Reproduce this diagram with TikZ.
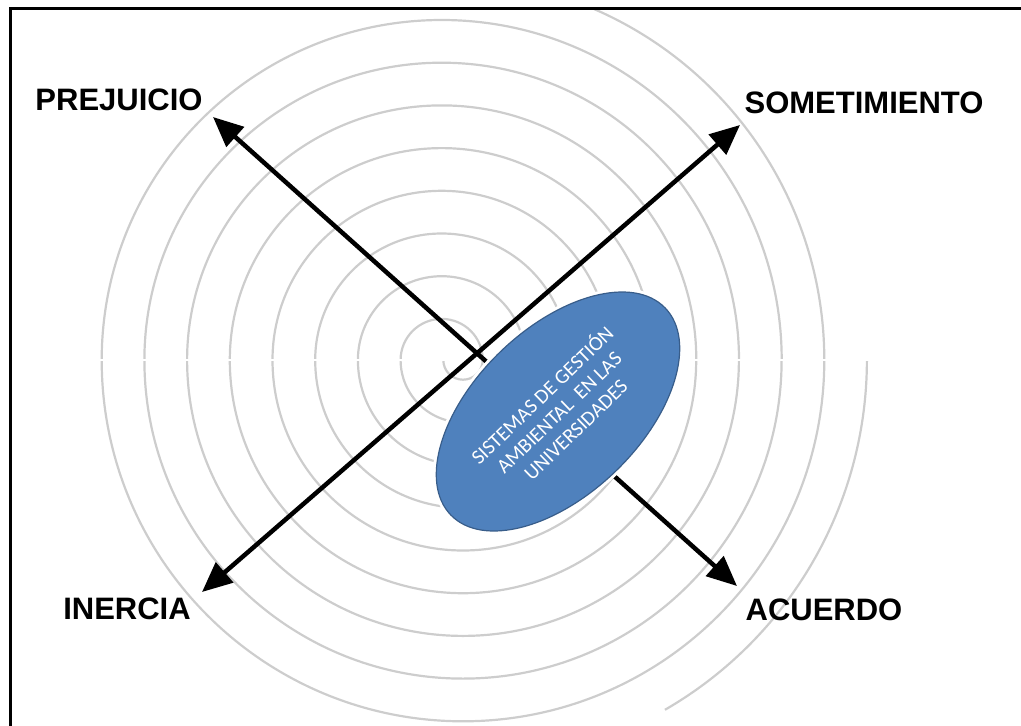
\documentclass[tikz,border=0pt]{standalone}
\usepackage{fontspec}
\newfontfamily\labelfont{Liberation Sans}
\newfontfamily\ovalfont{Carlito}
\usetikzlibrary{arrows.meta,shapes.geometric}

\definecolor{spiralgray}{RGB}{205,205,205}
\definecolor{ovalblue}{RGB}{79,129,189}
\definecolor{ovalline}{RGB}{56,93,138}

\tikzset{
  frameline/.style={line width=3pt, black},
  spiral/.style={line width=2.2pt, spiralgray},
  axisarrow/.style={line width=4.5pt, black, {Triangle[length=30pt,width=26pt]}-{Triangle[length=30pt,width=26pt]}},
  corner/.style={font=\labelfont\bfseries\fontsize{31}{31}\selectfont, inner sep=0pt},
  oval/.style={ellipse, fill=ovalblue, draw=ovalline, line width=1.2pt,
    preaction={draw=white, line width=7pt},
    minimum width=298pt, minimum height=166pt, inner sep=0pt,
    text=white, align=center,
    font=\ovalfont\fontsize{20.5}{24}\selectfont}
}

\begin{document}
\begin{tikzpicture}[x=1pt,y=-1pt]
\useasboundingbox (0,0) rectangle (1021,726);

% spiral of half circles: upper halves around one centre, lower halves around a second one
\begin{scope}
  \clip (10,8) rectangle (1021,726);
  \foreach \i in {0,...,7}{
    \draw[spiral] ({101.7+42.7*\i},360) arc[start angle=180, end angle=360, radius={340-42.7*\i}];
  }
  \foreach \i in {0,...,8}{
    \draw[spiral] ({101.7+42.7*\i},360) arc[start angle=180, end angle=0, radius={361.3-42.7*\i}];
  }
  \draw[spiral] (824.3,360) arc[start angle=0, end angle=-70, radius=382.6];
  \draw[spiral] (866.9,360) arc[start angle=0, end angle=60, radius=403.9];
  % small breaks where the half circles meet
  \draw[white, line width=1.5pt] (60,360) -- (900,360);
\end{scope}

% frame
\draw[frameline] (10,726) -- (10,8.5) -- (1021,8.5);

% arrow ends
\coordinate (pTip) at (213,117);
\coordinate (aTip) at (737,586);
\coordinate (sTip) at (740,125);
\coordinate (iTip) at (202,592);

\draw[axisarrow] (pTip) -- (aTip);
\draw[axisarrow] (iTip) -- (sTip);

% central oval
\node[oval, rotate=44] (sga) at (558,411.5)
  {SISTEMAS DE GESTIÓN\\AMBIENTAL\ \ EN LAS\\UNIVERSIDADES};

% corner labels
\node[corner] (prej) at (119,100) {PREJUICIO};
\node[corner] (somet) at (864,103) {SOMETIMIENTO};
\node[corner] (inerc) at (127,609) {INERCIA};
\node[corner] (acuer) at (824,610) {ACUERDO};
\end{tikzpicture}
\end{document}
